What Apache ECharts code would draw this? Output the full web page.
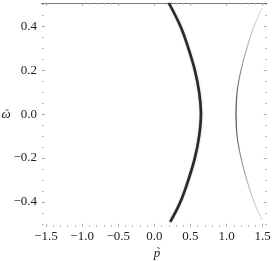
<!DOCTYPE html>
<html><head><meta charset="utf-8">
<script src="https://cdn.jsdelivr.net/npm/echarts@6/dist/echarts.min.js"></script>
<style>html,body{margin:0;padding:0;background:#fff}#c{width:273px;height:261px}</style>
</head><body><div id="c"></div>
<script>
// thick curve (inner branch)
const innerY = [-0.49, -0.4, -0.3, -0.2, -0.1, 0, 0.1, 0.2, 0.3, 0.4, 0.505];
const innerX = [0.22, 0.36, 0.47, 0.56, 0.62, 0.645, 0.62, 0.56, 0.47, 0.36, 0.20];
// thin curve (outer branch)
const outerY = [-0.48, -0.4, -0.3, -0.2, -0.1, 0, 0.1, 0.2, 0.3, 0.4, 0.48];
const outerX = [1.49, 1.38, 1.28, 1.2, 1.145, 1.13, 1.145, 1.2, 1.28, 1.38, 1.49];
// ticks
const xMajor = [-1.5, -1.0, -0.5, 0.0, 0.5, 1.0, 1.5];
const yMajor = [-0.4, -0.2, 0.0, 0.2, 0.4];
const xMinor = [-1.4,-1.3,-1.2,-1.1,-0.9,-0.8,-0.7,-0.6,-0.4,-0.3,-0.2,-0.1,0.1,0.2,0.3,0.4,0.6,0.7,0.8,0.9,1.1,1.2,1.3,1.4];
const yMinor = [-0.5,-0.45,-0.35,-0.3,-0.25,-0.15,-0.1,-0.05,0.05,0.1,0.15,0.25,0.3,0.35,0.45,0.5];
// axis titles
const xTitle = 'p', yTitle = '\u03C9', accent = '\u02DC';

const fmt = v => {
  const s = Math.abs(v).toFixed(1);
  return (v < -1e-9 ? '\u2212' : '') + s;
};
const XMIN = -1.555, XMAX = 1.555, YMIN = -0.512, YMAX = 0.505;
const tickCol = '#a8a8a8';
const SERIF = 'Liberation Serif';
const labelStyle = {fontFamily: SERIF, fontSize: 13, color: '#222'};

function xa(pos, major, withLabel, showLine) {
  return {
    type: 'value', position: pos, min: XMIN, max: XMAX,
    axisLine: {show: showLine, onZero: false, lineStyle: {color: '#777', width: 1}},
    axisTick: {show: true, inside: true, length: major ? 3 : 1.5, customValues: major ? xMajor : xMinor, lineStyle: {color: tickCol}},
    axisLabel: withLabel ? Object.assign({show: true, margin: 3, formatter: fmt, customValues: xMajor}, labelStyle) : {show: false},
    splitLine: {show: false}
  };
}
function ya(pos, major, withLabel) {
  return {
    type: 'value', position: pos, min: YMIN, max: YMAX,
    axisLine: {show: false, onZero: false},
    axisTick: {show: true, inside: true, length: major ? 3 : 1.5, customValues: major ? yMajor : yMinor, lineStyle: {color: tickCol}},
    axisLabel: withLabel ? Object.assign({show: true, margin: 5, formatter: fmt, customValues: yMajor}, labelStyle) : {show: false},
    splitLine: {show: false}
  };
}
const titleFont = {fontFamily: SERIF, fontStyle: 'italic', fontSize: 13, fill: '#222', align: 'center', verticalAlign: 'middle'};
const accFont = {fontFamily: SERIF, fontSize: 11, fill: '#222', align: 'center', verticalAlign: 'middle'};

const chart = echarts.init(document.getElementById('c'), null, {renderer: 'canvas'});
chart.setOption({
  animation: false,
  grid: {left: 42, right: 6.3, top: 3, bottom: 34.3, containLabel: false, outerBoundsMode: 'none'},
  xAxis: [xa('bottom', true, true, false), xa('bottom', false, false, false), xa('top', true, false, true), xa('top', false, false, true)],
  yAxis: [ya('left', true, true), ya('left', false, false), ya('right', true, false), ya('right', false, false)],
  graphic: [
    {type: 'text', x: 6, y: 115, style: Object.assign({text: yTitle}, titleFont)},
    {type: 'text', x: 7, y: 114.5, style: Object.assign({text: accent}, accFont)},
    {type: 'text', x: 157, y: 253.5, style: Object.assign({text: xTitle}, titleFont)},
    {type: 'text', x: 158.5, y: 252, style: Object.assign({text: accent}, accFont)}
  ],
  series: [
    {
      type: 'line', xAxisIndex: 0, yAxisIndex: 0, showSymbol: false, smooth: 0.4,
      data: innerY.map((y, i) => [innerX[i], y]),
      lineStyle: {color: '#2a2a2a', width: 2.6, shadowBlur: 1.5, shadowColor: 'rgba(0,0,0,0.4)'}
    },
    {
      type: 'line', xAxisIndex: 0, yAxisIndex: 0, showSymbol: false, smooth: 0.4,
      data: outerY.map((y, i) => [outerX[i], y]),
      lineStyle: {width: 1.1, color: new echarts.graphic.LinearGradient(0, 0, 0, 1, [
        {offset: 0, color: 'rgba(150,150,150,0.3)'},
        {offset: 0.5, color: '#333'},
        {offset: 1, color: 'rgba(150,150,150,0.3)'}
      ])}
    }
  ]
});
</script></body></html>
